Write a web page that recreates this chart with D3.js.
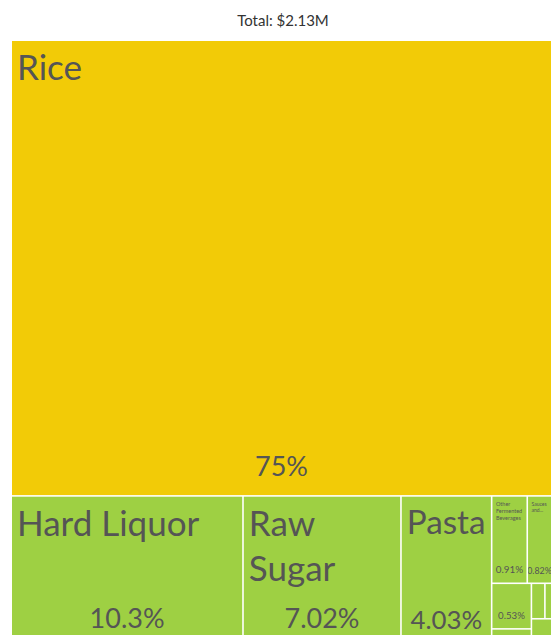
<!DOCTYPE html>
<html>
<head>
<meta charset="utf-8">
<script src="https://cdn.jsdelivr.net/npm/d3@7"></script>
<style>
  html, body { margin: 0; padding: 0; background: #fff; }
  svg { display: block; font-family: Lato, "Open Sans", sans-serif; }
</style>
</head>
<body>
<svg id="chart" width="551" height="635"></svg>
<script>
// Export basket, share of total trade value (%)
const products = [
  "Rice", "Hard Liquor", "Raw Sugar", "Pasta",
  "Other Fermented Beverages", "Sauces and Seasonings", "Soups and Broths",
  "Beer", "Malt Extract",
  "Baked Goods", "Wine", "Vinegar", "Coffee and Tea Extracts"
];
const shares = [75, 10.3, 7.02, 4.03, 0.91, 0.82, 0.37, 0.53, 0.22, 0.14, 0.15, 0.15, 0.36];
const sections = [
  "Vegetable Products", "Foodstuffs", "Foodstuffs", "Foodstuffs",
  "Foodstuffs", "Foodstuffs", "Foodstuffs",
  "Foodstuffs", "Foodstuffs",
  "Foodstuffs", "Foodstuffs", "Foodstuffs", "Foodstuffs"
];
// grouping of the products inside the tree (slash-separated branch keys)
const branches = [
  "", "food", "food", "food",
  "food/minor/a", "food/minor/a", "food/minor/a",
  "food/minor/b/l", "food/minor/b/l",
  "food/minor/b/r/t", "food/minor/b/r/t", "food/minor/b/r/t", "food/minor/b/r"
];
const totalLabel = "Total: $2.13M";

const sectionColors = {
  "Vegetable Products": "#F2CB07",
  "Foodstuffs": "#9ED043"
};

const W = 551, H = 635;
const area = { x: 12, y: 41, w: 561, h: 606 };
const textColor = "#555";
const fontFamily = 'Lato, "Open Sans", sans-serif';

const svg = d3.select("#chart");

svg.append("text")
  .attr("x", 283).attr("y", 26)
  .attr("text-anchor", "middle")
  .attr("font-size", 15)
  .attr("fill", "#333")
  .text(totalLabel);

// build the nested tree from the flat lists
const tree = { key: "root", children: [] };
products.forEach((name, i) => {
  let node = tree;
  branches[i].split("/").filter(Boolean).forEach(k => {
    let c = node.children.find(n => n.key === k);
    if (!c) { c = { key: k, children: [] }; node.children.push(c); }
    node = c;
  });
  node.children.push({ name, share: shares[i], section: sections[i] });
});

const root = d3.hierarchy(tree).sum(d => d.share || 0);

// alternate horizontal / vertical splits by depth
const tile = (node, x0, y0, x1, y1) =>
  (node.depth % 2 ? d3.treemapDice : d3.treemapSlice)(node, x0, y0, x1, y1);

d3.treemap()
  .tile(tile)
  .size([area.w, area.h])
  .paddingInner(1.6)
  (root);

const leaves = root.leaves();

const g = svg.append("g").attr("transform", `translate(${area.x},${area.y})`);

const defs = svg.append("defs");

// text measuring helper
const measure = svg.append("text").attr("visibility", "hidden").attr("font-family", fontFamily);
function textWidth(str, size) {
  measure.attr("font-size", size).text(str);
  return measure.node().getComputedTextLength();
}

function wrapWords(words, size, maxW) {
  const lines = [];
  let cur = "";
  for (const w of words) {
    const t = cur ? cur + " " + w : w;
    if (textWidth(t, size) <= maxW) cur = t;
    else { if (cur) lines.push(cur); cur = w; }
  }
  if (cur) lines.push(cur);
  return lines;
}

const MIN_FS = 5;
function fitName(name, maxW, maxH) {
  const words = name.split(" ");
  for (let fs = 35; fs >= MIN_FS; fs -= 0.25) {
    if (words.some(w => textWidth(w, fs) > maxW)) continue;
    const lines = wrapWords(words, fs, maxW);
    if (lines.length * fs * 1.3 <= maxH) return { fs, lines };
  }
  // smallest size: keep the words that fit and close with an ellipsis
  const fs = MIN_FS;
  const lines = [];
  let cur = "";
  for (const w of words) {
    if (textWidth(w, fs) > maxW) {
      if (cur) lines.push(cur + "...");
      else if (lines.length) lines[lines.length - 1] += "...";
      return lines.length ? { fs, lines } : null;
    }
    const t = cur ? cur + " " + w : w;
    if (textWidth(t, fs) <= maxW) cur = t;
    else { lines.push(cur); cur = w; }
  }
  if (cur) lines.push(cur);
  return { fs, lines };
}

const cell = g.selectAll("g.cell")
  .data(leaves)
  .join("g")
  .attr("class", "cell");

cell.append("rect")
  .attr("x", d => d.x0)
  .attr("y", d => d.y0)
  .attr("width", d => d.x1 - d.x0)
  .attr("height", d => d.y1 - d.y0)
  .attr("fill", d => sectionColors[d.data.section]);

cell.each(function (d, i) {
  const sel = d3.select(this);
  const w = d.x1 - d.x0, h = d.y1 - d.y0;
  const clipId = "clip-" + i;
  defs.append("clipPath").attr("id", clipId)
    .append("rect")
    .attr("x", d.x0 + area.x).attr("y", d.y0 + area.y)
    .attr("width", w).attr("height", h);
  const labels = sel.append("g")
    .attr("clip-path", `url(#${clipId})`)
    .attr("transform", `translate(${-area.x},${-area.y})`)
    .append("g")
    .attr("transform", `translate(${area.x},${area.y})`);

  const pctFs = Math.min(27, w * 0.29, h * 0.22);
  const showPct = pctFs >= 7 && h > pctFs * 3.2;

  // product name, top-left
  if (h > 60 && w > 20) {
    const reserve = showPct ? pctFs * 1.6 : 0;
    const padX = w > 60 ? 5 : 3.5;
    const fit = fitName(d.data.name, w - padX * 2, h - reserve - 14);
    if (fit) {
      const top = Math.max(fit.fs * 0.4, 5.5);
      const t = labels.append("text")
        .attr("font-size", fit.fs)
        .attr("fill", textColor);
      fit.lines.forEach((line, k) => {
        t.append("tspan")
          .attr("x", d.x0 + padX)
          .attr("y", d.y0 + top + fit.fs * 0.72 + k * fit.fs * 1.3)
          .text(line);
      });
    }
  }

  // share of total, bottom-centre of the on-screen part of the cell
  if (showPct) {
    const visRight = Math.min(d.x1, W - area.x);
    labels.append("text")
      .attr("x", (d.x0 + visRight) / 2)
      .attr("y", d.y1 - (pctFs * 0.55 + 4))
      .attr("text-anchor", "middle")
      .attr("font-size", pctFs)
      .attr("fill", textColor)
      .text(d3.format("")(d.data.share) + "%");
  }
});

measure.remove();
</script>
</body>
</html>
